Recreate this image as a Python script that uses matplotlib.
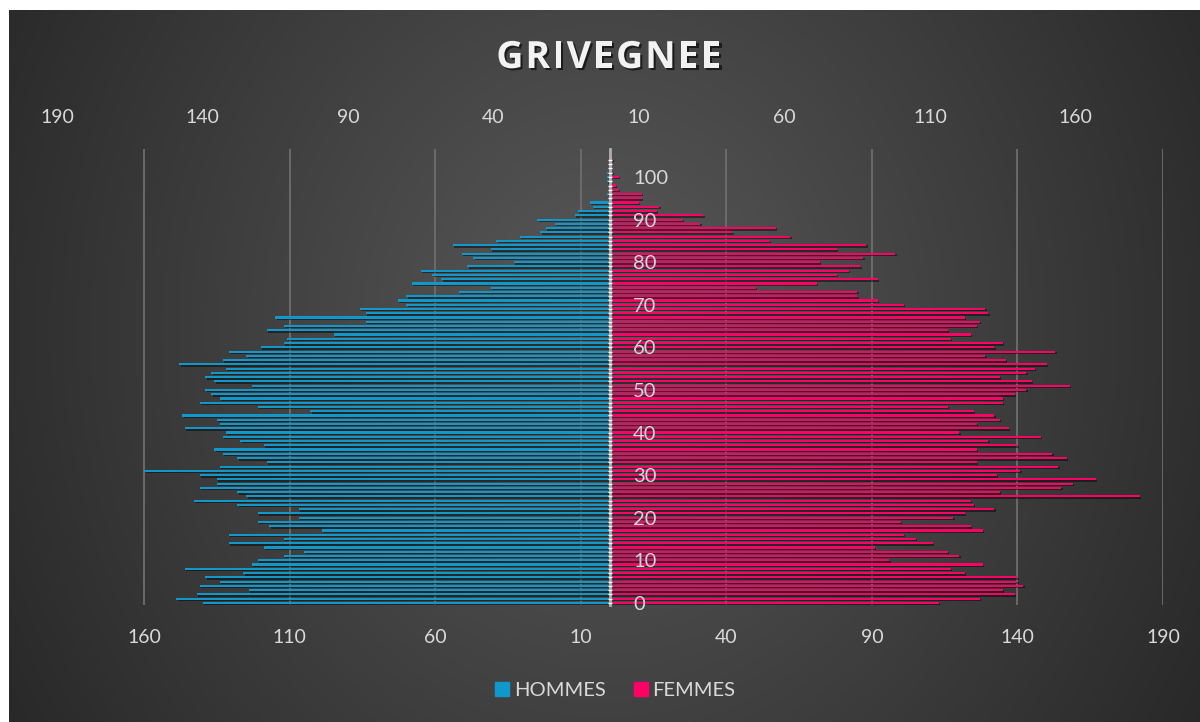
import numpy as np
import matplotlib.pyplot as plt
import matplotlib.patheffects as pe
from matplotlib.lines import Line2D

# Données : population par âge (0 à 104 ans)
ages = np.arange(0, 105)
hommes = [140, 149, 142, 124, 141, 134, 139, 126, 146, 123,
          121, 112, 105, 119, 131, 112, 131, 99, 117, 121,
          107, 121, 107, 128, 143, 125, 128, 141, 135, 135,
          141, 160, 134, 118, 128, 133, 136, 119, 127, 133,
          132, 146, 134, 135, 147, 103, 121, 141, 134, 137,
          139, 123, 136, 139, 137, 132, 148, 133, 125, 131,
          120, 112, 111, 95, 118, 112, 84, 115, 84, 86,
          70, 73, 70, 52, 41, 68, 58, 61, 65, 49,
          33, 47, 51, 41, 54, 39, 31, 24, 22, 19,
          25, 12, 11, 6, 7, 0, 1, 0, 0, 1,
          1, 1, 0, 0, 0]
femmes = [113, 127, 139, 135, 142, 140, 140, 122, 117, 128,
          96, 120, 116, 91, 111, 105, 101, 128, 124, 100,
          118, 122, 132, 125, 124, 182, 134, 155, 159, 167,
          133, 141, 154, 126, 157, 152, 126, 140, 130, 148,
          120, 137, 126, 134, 132, 125, 116, 135, 135, 139,
          143, 158, 145, 134, 143, 146, 150, 136, 129, 153,
          132, 135, 117, 124, 116, 126, 127, 122, 130, 129,
          101, 92, 85, 85, 50, 71, 92, 78, 82, 86,
          72, 87, 98, 78, 88, 55, 62, 42, 57, 31,
          25, 32, 16, 17, 10, 11, 11, 3, 2, 0,
          3, 1, 0, 0, 1]

ticks_bas = [-160, -110, -60, -10, 40, 90, 140, 190]
ticks_haut = [-190, -140, -90, -40, 10, 60, 110, 160]
ticks_age = list(range(0, 101, 10))
titre = 'GRIVEGNEE'

bleu = '#0e98cc'
rose = '#ff0066'
gris_txt = '#d9d9d9'

plt.rcParams['font.family'] = ['Lato', 'DejaVu Sans']

W, H = 1200, 722
fig = plt.figure(figsize=(W / 100, H / 100), dpi=100, facecolor='white')

# fond en dégradé radial
bg = fig.add_axes([9 / W, 0, 1 - 9 / W, 1 - 10 / H])
yy, xx = np.mgrid[-1:1:300j, -1:1:500j]
r = np.sqrt(0.9 * xx ** 2 + 0.25 * (yy + 0.1) ** 2)
v = np.clip(89 - 44 * r, 38, 90) / 255
bg.imshow(np.dstack([v, v, v]), aspect='auto', extent=[0, 1, 0, 1])
bg.axis('off')

# zone du graphique
left, right = 57 / W, 1163 / W
bottom, top = (H - 605) / H, (H - 149.3) / H
ax = fig.add_axes([left, bottom, right - left, top - bottom])
ax.patch.set_alpha(0)

ombre = [pe.SimplePatchShadow(offset=(1, -1), shadow_rgbFace='black', alpha=0.45), pe.Normal()]
b1 = ax.barh(ages, -np.array(hommes), height=0.5, color=bleu, zorder=2)
b2 = ax.barh(ages, femmes, height=0.5, color=rose, zorder=2)
for p in list(b1) + list(b2):
    p.set_path_effects(ombre)

ax.set_xlim(-190, 190)
ax.set_ylim(-0.5, 106.5)

# axe bas
ax.set_xticks(ticks_bas)
ax.set_xticklabels([str(abs(t)) for t in ticks_bas])
ax.tick_params(axis='x', length=0, pad=17, labelsize=14, labelcolor=gris_txt)
ax.grid(axis='x', color='#6e6e6e', lw=1.3)
ax.set_axisbelow(True)

# axe haut
sec = ax.secondary_xaxis('top')
sec.set_xticks(ticks_haut)
sec.set_xticklabels([str(abs(t)) for t in ticks_haut])
sec.tick_params(axis='x', length=0, pad=17, labelsize=14, labelcolor=gris_txt)
for s in sec.spines.values():
    s.set_visible(False)

# axe des âges au centre
for k in ['left', 'top', 'bottom']:
    ax.spines[k].set_visible(False)
ax.spines['right'].set_position(('data', 0))
ax.spines['right'].set_color('#b0b0b0')
ax.spines['right'].set_linewidth(2)
ax.yaxis.set_ticks_position('right')
ax.yaxis.set_zorder(5)
ax.set_yticks(ticks_age)
ax.set_yticks(ages, minor=True)
ax.tick_params(axis='y', which='both', direction='inout', length=3, width=1, color='white')
ax.tick_params(axis='y', which='major', pad=15, labelsize=14.5, labelcolor=gris_txt)

# titre, lettre par lettre pour l'espacement
rend = fig.canvas.get_renderer()
style = dict(fontsize=27, fontweight='bold', color='#f2f2f2', family=['Open Sans', 'DejaVu Sans'],
             va='center', ha='left')
largeurs = []
for c in titre:
    t = fig.text(0, 0, c, **style)
    largeurs.append(t.get_window_extent(rend).width)
    t.remove()
espace = 2.0
total = sum(largeurs) + espace * (len(titre) - 1)
x0 = 609 - total / 2
for c, w in zip(titre, largeurs):
    fig.text(x0 / W, 1 - 58 / H, c, **style,
             path_effects=[pe.withSimplePatchShadow(offset=(1.5, -1.5), shadow_rgbFace='black', alpha=0.6)])
    x0 += w + espace

# légende
handles = [Line2D([], [], marker='s', ls='none', color=bleu, markersize=10),
           Line2D([], [], marker='s', ls='none', color=rose, markersize=10)]
leg = fig.legend(handles, ['HOMMES', 'FEMMES'], loc='center', bbox_to_anchor=(614 / W, 1 - 690 / H),
                 ncol=2, frameon=False, fontsize=14.5, handletextpad=0.1, columnspacing=1.2,
                 handlelength=1.0)
for t in leg.get_texts():
    t.set_color(gris_txt)

fig.savefig('out.png', dpi=100, facecolor='white')
